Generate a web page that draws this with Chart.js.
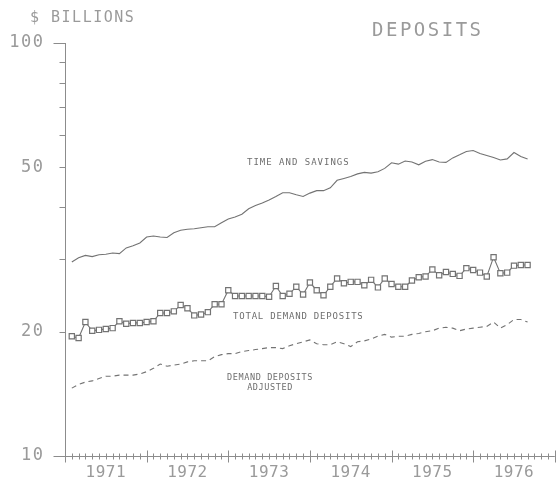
<!DOCTYPE html>
<html>
<head>
<meta charset="utf-8">
<script src="https://cdn.jsdelivr.net/npm/chart.js@4.4.1/dist/chart.umd.min.js"></script>
<style>
    html, body { margin: 0; padding: 0; background: #fff; }
    #wrap { width: 560px; height: 480px; }
</style>
</head>
<body>
<div id="wrap"><canvas id="deposits-chart" width="560" height="480"></canvas></div>
<script>
// monthly, Jan 1971 .. Aug 1976 ($ billions)
const timeAndSavings = [
    29.5, 30.2, 30.6, 30.4, 30.7, 30.8, 31.0, 30.9, 31.9, 32.3, 32.8, 33.9,
    34.1, 33.9, 33.8, 34.7, 35.2, 35.4, 35.5, 35.7, 35.9, 35.9, 36.7, 37.5,
    37.9, 38.5, 39.7, 40.4, 41.0, 41.7, 42.5, 43.4, 43.4, 42.9, 42.5, 43.3,
    43.9, 43.9, 44.6, 46.5, 47.0, 47.5, 48.2, 48.6, 48.4, 48.8, 49.7, 51.3,
    50.9, 51.8, 51.5, 50.7, 51.7, 52.2, 51.5, 51.4, 52.7, 53.6, 54.6, 54.9,
    54.0, 53.4, 52.8, 52.1, 52.4, 54.3, 53.1, 52.4
];
const totalDemand = [
    19.5, 19.3, 21.1, 20.1, 20.2, 20.3, 20.4, 21.2, 20.9, 21.0, 21.0, 21.1,
    21.2, 22.2, 22.2, 22.4, 23.2, 22.8, 21.9, 22.0, 22.3, 23.3, 23.3, 25.2,
    24.4, 24.4, 24.4, 24.4, 24.4, 24.3, 25.8, 24.4, 24.7, 25.7, 24.6, 26.3,
    25.2, 24.5, 25.7, 26.9, 26.2, 26.4, 26.4, 25.9, 26.7, 25.6, 26.9, 26.1,
    25.7, 25.7, 26.6, 27.1, 27.2, 28.3, 27.4, 27.9, 27.6, 27.3, 28.5, 28.2,
    27.8, 27.2, 30.3, 27.7, 27.8, 28.9, 29.0, 29.0
];
const demandAdjusted = [
    14.6, 14.9, 15.1, 15.2, 15.4, 15.6, 15.6, 15.7, 15.7, 15.7, 15.8, 16.0,
    16.3, 16.7, 16.5, 16.6, 16.7, 16.9, 17.0, 17.0, 17.0, 17.4, 17.6, 17.7,
    17.7, 17.9, 18.0, 18.1, 18.2, 18.3, 18.3, 18.2, 18.5, 18.7, 18.9, 19.1,
    18.7, 18.6, 18.6, 18.9, 18.7, 18.4, 18.9, 19.0, 19.2, 19.5, 19.7, 19.4,
    19.5, 19.5, 19.7, 19.8, 20.0, 20.1, 20.4, 20.5, 20.4, 20.1, 20.3, 20.4,
    20.5, 20.6, 21.1, 20.4, 20.8, 21.4, 21.4, 21.1
];
const years = ['1971', '1972', '1973', '1974', '1975', '1976'];
const yLabelValues = [10, 20, 50, 100];
const yMinorValues = [30, 40, 60, 70, 80, 90];

const lineColor = '#737373';
const axisColor = '#8c8c8c';
const textColor = '#9a9a9a';
const noteColor = '#6e6e6e';
const plotFont = '"DejaVu Sans Mono", monospace';

// points sit at month ends: Jan 1971 -> 1
const toPoints = values => values.map((v, i) => ({ x: i + 1, y: v }));

function drawText(ctx, text, x, y, size, align, spacing, color) {
    ctx.font = `${size}px ${plotFont}`;
    ctx.fillStyle = color || textColor;
    ctx.textAlign = align;
    ctx.textBaseline = 'middle';
    ctx.letterSpacing = spacing + 'px';
    ctx.fillText(text, x, y);
}

const plotterAxes = {
    id: 'plotterAxes',
    afterDraw(chart) {
        const { ctx, chartArea } = chart;
        const xs = chart.scales.x;
        const ys = chart.scales.y;
        const left = Math.round(chartArea.left) + 0.5;
        const bottom = Math.round(ys.getPixelForValue(10)) + 0.5;
        const months = years.length * 12;

        ctx.save();
        ctx.strokeStyle = axisColor;
        ctx.lineWidth = 1;

        // y axis
        ctx.beginPath();
        ctx.moveTo(left, ys.getPixelForValue(100));
        ctx.lineTo(left, bottom);
        yLabelValues.concat(yMinorValues).forEach(v => {
            const py = Math.round(ys.getPixelForValue(v)) + 0.5;
            const len = (v === 10 || v === 100) ? 12 : 6;
            ctx.moveTo(left - len, py);
            ctx.lineTo(left, py);
        });
        ctx.stroke();

        // x axis with monthly ticks
        ctx.beginPath();
        ctx.moveTo(left, bottom);
        ctx.lineTo(xs.getPixelForValue(months), bottom);
        for (let m = 0; m <= months; m++) {
            const px = Math.round(xs.getPixelForValue(m)) + 0.5;
            const len = m % 12 === 0 ? 6 : 3;
            ctx.moveTo(px, bottom - len);
            ctx.lineTo(px, bottom + len);
        }
        ctx.stroke();

        yLabelValues.forEach(v => {
            drawText(ctx, String(v), left - 21, ys.getPixelForValue(v), 17, 'right', 1.5);
        });
        years.forEach((yr, i) => {
            drawText(ctx, yr, xs.getPixelForValue(i * 12 + 6), 473, 16, 'center', 0.5);
        });

        drawText(ctx, '$ BILLIONS', 30, 18, 15, 'left', 1.5);
        drawText(ctx, 'DEPOSITS', 372, 31, 19, 'left', 2.5);

        drawText(ctx, 'TIME AND SAVINGS', 247, 163, 9, 'left', 1, noteColor);
        drawText(ctx, 'TOTAL DEMAND DEPOSITS', 233, 317, 9, 'left', 0.8, noteColor);
        drawText(ctx, 'DEMAND DEPOSITS', 270, 378, 8.5, 'center', 0.6, noteColor);
        drawText(ctx, 'ADJUSTED', 270, 388, 8.5, 'center', 0.6, noteColor);
        ctx.restore();
    }
};

new Chart(document.getElementById('deposits-chart'), {
    type: 'line',
    data: {
        datasets: [
            {
                label: 'Time and savings',
                data: toPoints(timeAndSavings),
                borderColor: lineColor,
                borderWidth: 1.1,
                pointRadius: 0,
                tension: 0
            },
            {
                label: 'Total demand deposits',
                data: toPoints(totalDemand),
                borderColor: lineColor,
                borderWidth: 1.1,
                pointStyle: 'rect',
                pointRadius: 3.7,
                pointBorderWidth: 1.2,
                pointBorderColor: lineColor,
                pointBackgroundColor: '#fff',
                tension: 0
            },
            {
                label: 'Demand deposits adjusted',
                data: toPoints(demandAdjusted),
                borderColor: lineColor,
                borderWidth: 1.1,
                borderDash: [5, 4],
                pointRadius: 0,
                tension: 0
            }
        ]
    },
    options: {
        responsive: false,
        animation: false,
        layout: { padding: { left: 65, top: 43, right: 2, bottom: 24 } },
        scales: {
            x: { type: 'linear', min: 0, max: 72, display: false },
            y: { type: 'logarithmic', min: 10, max: 100, display: false }
        },
        plugins: {
            legend: { display: false },
            tooltip: { enabled: false }
        }
    },
    plugins: [plotterAxes]
});
</script>
</body>
</html>
